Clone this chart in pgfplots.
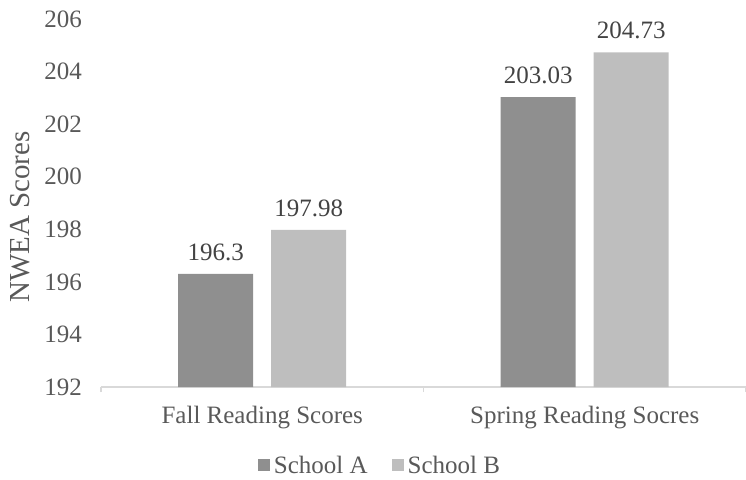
\documentclass[border=0pt]{standalone}
\usepackage{pgfplots}
\pgfplotsset{compat=1.18}
\usepackage{fontspec}
\setmainfont{Liberation Serif}
\definecolor{barA}{HTML}{8F8F8F}
\definecolor{barB}{HTML}{BEBEBE}
\definecolor{txt}{HTML}{595959}
\definecolor{axl}{HTML}{D9D9D9}
\begin{document}
\begin{tikzpicture}
\begin{axis}[
  scale only axis,
  width=322.5pt, height=184pt,
  ybar=9pt, bar width=37.5pt,
  ymin=192, ymax=206, ytick={192,194,...,206},
  xmin=-0.5, xmax=1.5,
  xtick={0,1},
  xticklabels={Fall Reading Scores, Spring Reading Socres},
  minor xtick={-0.5,0.5,1.5},
  axis x line*=bottom, axis y line*=left,
  x axis line style={draw=axl, line width=0.8pt, -},
  y axis line style={draw=none},
  major tick length=0pt,
  minor tick length=2.5pt,
  tick align=outside,
  minor x tick style={draw=axl, line width=0.8pt},
  ytick style={draw=none}, xtick style={draw=none},
  font=\fontsize{12}{14}\selectfont,
  tick label style={text=txt, font=\fontsize{12.5}{14}\selectfont},
  /pgf/number format/assume math mode=true,
  yticklabel style={xshift=-6pt},
  xticklabel style={yshift=-6pt},
  ylabel={NWEA Scores},
  every axis y label/.style={at={(axis description cs:-0.1256,0.462)}, anchor=center, rotate=90},
  ylabel style={text=txt, font=\fontsize{14.5}{16}\selectfont},
  nodes near coords,
  nodes near coords style={text=txt!75!black, font=\fontsize{12.5}{14}\selectfont, /pgf/number format/fixed, /pgf/number format/precision=2},
  every node near coord/.append style={yshift=3pt},
  legend columns=2,
  legend style={draw=none, at={(0.434,-0.215)}, anchor=center, text=txt,
    font=\fontsize{12.5}{14}\selectfont, /tikz/every even column/.append style={column sep=10pt}},
  legend image code/.code={\fill[#1] (0pt,-2.5pt) rectangle (6pt,3.5pt);},
]
\addplot[fill=barA, draw=none] coordinates {(0,196.3) (1,203.03)};
\addplot[fill=barB, draw=none] coordinates {(0,197.98) (1,204.73)};
\legend{School A, School B}
\end{axis}
\pgfresetboundingbox
\path[use as bounding box] (-50.5pt,-46pt) rectangle (322.5pt,193.5pt);
\end{tikzpicture}
\end{document}
